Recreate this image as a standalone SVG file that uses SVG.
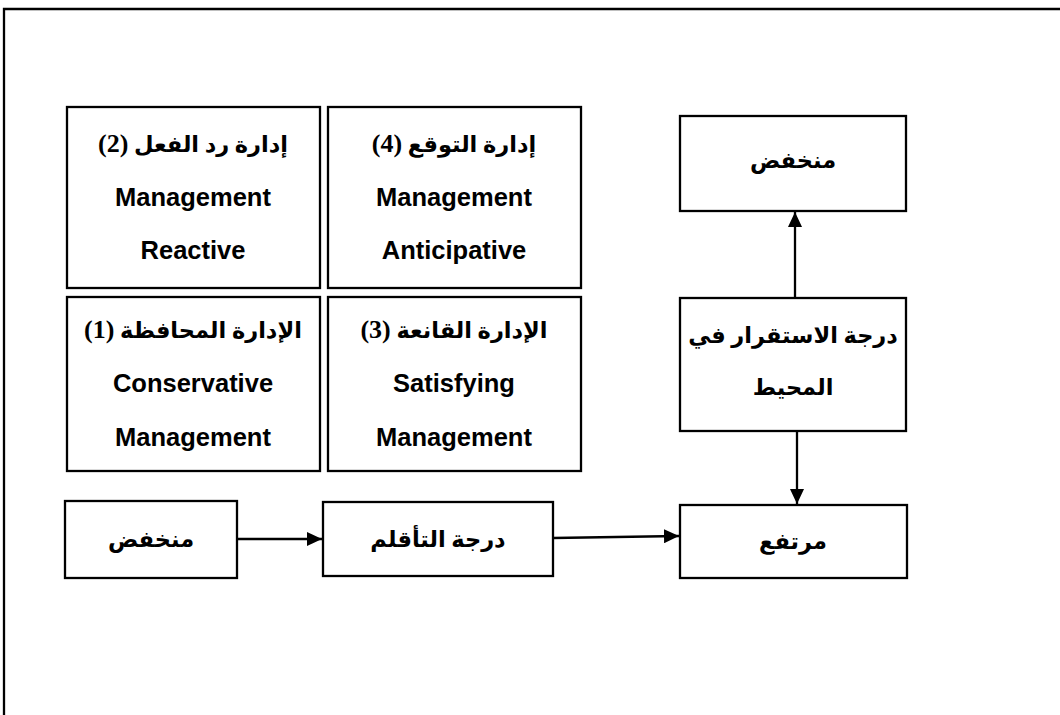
<svg xmlns="http://www.w3.org/2000/svg" width="1060" height="715" viewBox="0 0 1060 715">
<style>
.box{fill:#fff;stroke:#000;stroke-width:2.3}
.en{font-family:"Liberation Sans",Arial,sans-serif;font-weight:bold;font-size:25.5px;fill:#000;text-anchor:middle}
.ar{font-family:"Liberation Serif","DejaVu Sans",serif;font-weight:bold;font-size:22.5px;fill:#000;text-anchor:middle}
.num{font-size:26px}
.con{stroke:#000;stroke-width:2.3;fill:none}
</style>
<defs>
<marker id="ah" markerWidth="15" markerHeight="14" refX="15" refY="7" orient="auto" markerUnits="userSpaceOnUse">
<path d="M0,0 L15,7 L0,14 Z" fill="#000"/>
</marker>
</defs>
<rect width="1060" height="715" fill="#fff"/>
<path d="M4,715 V9 H1060" fill="none" stroke="#000" stroke-width="2.3"/>
<g id="n2"><rect class="box" x="67" y="107" width="253" height="181"/>
<text class="ar" x="193" y="152" direction="rtl">إدارة رد الفعل <tspan class="num">(2)</tspan></text>
<text class="en" x="193" y="206">Management</text>
<text class="en" x="193" y="259">Reactive</text></g>
<g id="n4"><rect class="box" x="328" y="107" width="253" height="181"/>
<text class="ar" x="454" y="152" direction="rtl">إدارة التوقع <tspan class="num">(4)</tspan></text>
<text class="en" x="454" y="206">Management</text>
<text class="en" x="454" y="259">Anticipative</text></g>
<g id="n1"><rect class="box" x="67" y="297" width="253" height="174"/>
<text class="ar" x="193" y="338" direction="rtl">الإدارة المحافظة <tspan class="num">(1)</tspan></text>
<text class="en" x="193" y="392">Conservative</text>
<text class="en" x="193" y="446">Management</text></g>
<g id="n3"><rect class="box" x="328" y="297" width="253" height="174"/>
<text class="ar" x="454" y="338" direction="rtl">الإدارة القانعة <tspan class="num">(3)</tspan></text>
<text class="en" x="454" y="392">Satisfying</text>
<text class="en" x="454" y="446">Management</text></g>
<g id="lowTop"><rect class="box" x="680" y="116" width="226" height="95"/>
<text class="ar" x="793" y="168" direction="rtl">منخفض</text></g>
<g id="env"><rect class="box" x="680" y="298" width="226" height="133"/>
<text class="ar" x="793" y="343" direction="rtl">درجة الاستقرار في</text>
<text class="ar" x="793" y="395" direction="rtl">المحيط</text></g>
<g id="high"><rect class="box" x="680" y="505" width="227" height="73"/>
<text class="ar" x="793" y="549" direction="rtl">مرتفع</text></g>
<g id="lowBottom"><rect class="box" x="65" y="501" width="172" height="77"/>
<text class="ar" x="151" y="547" direction="rtl">منخفض</text></g>
<g id="adapt"><rect class="box" x="323" y="502" width="230" height="74"/>
<text class="ar" x="438" y="547" direction="rtl">درجة التأقلم</text></g>
<g id="connectors">
<line class="con" x1="795" y1="297" x2="795" y2="212" marker-end="url(#ah)"/>
<line class="con" x1="797" y1="431" x2="797" y2="504" marker-end="url(#ah)"/>
<line class="con" x1="237" y1="539" x2="322" y2="539" marker-end="url(#ah)"/>
<line class="con" x1="553" y1="538" x2="679" y2="536" marker-end="url(#ah)"/>
</g>
</svg>
